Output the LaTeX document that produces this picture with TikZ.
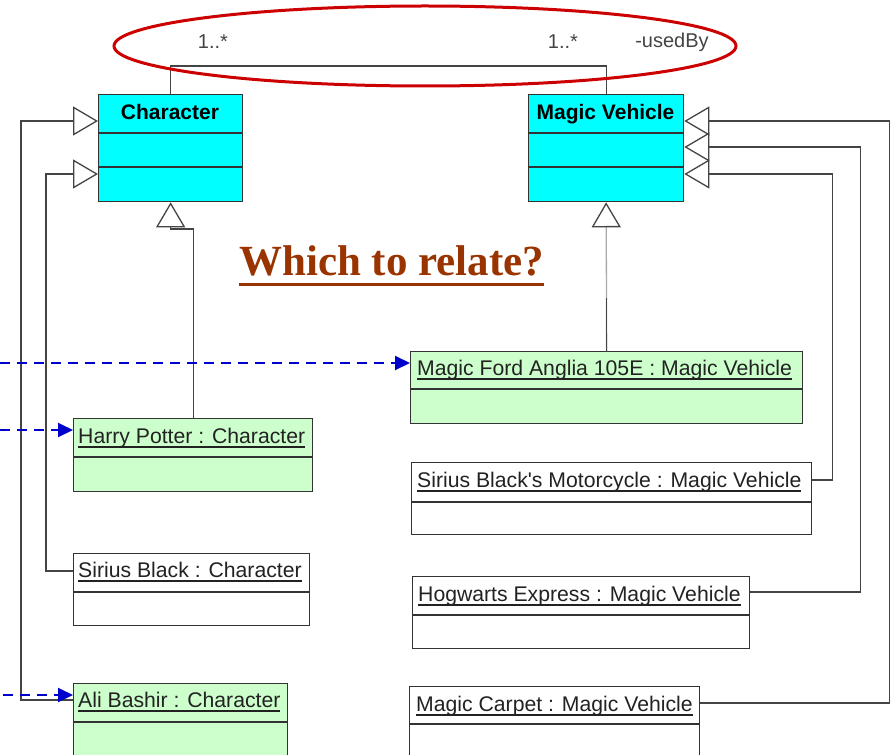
\documentclass[tikz,border=0pt]{standalone}
\usepackage{fontspec}
\setmainfont{Liberation Serif}
\setsansfont{Liberation Sans}[Ligatures=TeXOff]
\usetikzlibrary{arrows.meta,calc}
\definecolor{clsfill}{HTML}{00FFFF}
\definecolor{objgreen}{HTML}{CCFFCC}
\definecolor{boxline}{HTML}{333333}
\definecolor{lineg}{HTML}{444444}
\definecolor{lightg}{HTML}{AAAAAA}
\definecolor{txtg}{HTML}{222222}
\definecolor{multg}{HTML}{444444}
\definecolor{depblue}{HTML}{0000CC}
\definecolor{ovalred}{HTML}{CC0000}
\definecolor{qbrown}{HTML}{993300}
\newcommand\myunder[1]{\setbox0\hbox{#1}\rlap{\rule[-4.6pt]{\wd0}{1.3pt}}\box0}
\begin{document}
\begin{tikzpicture}[x=1pt,y=-1pt,
  boxbase/.style={draw=boxline, line width=1.3pt, anchor=north west, inner sep=0pt},
  clsbox/.style={boxbase, fill=clsfill},
  greenbox/.style={boxbase, fill=objgreen},
  whitebox/.style={boxbase, fill=white},
  divider/.style={draw=boxline, line width=1.3pt},
  clstitle/.style={anchor=base, inner sep=0pt, font=\sffamily\bfseries\fontsize{21}{25}\selectfont, text=black},
  objtitle/.style={anchor=base west, inner sep=0pt, font=\sffamily\fontsize{21.2}{25}\selectfont, text=txtg},
  mult/.style={anchor=base, inner sep=0pt, font=\sffamily\fontsize{20}{24}\selectfont, text=multg},
  assoc/.style={draw=lineg, line width=1.3pt},
  gen/.style={draw=lineg, line width=1.3pt, -{Triangle[open, length=25pt, width=29pt, color=lineg]}},
  dep/.style={draw=depblue, line width=2pt, dash pattern=on 10pt off 7pt, -{Triangle[length=15pt, width=14pt]}},
]
\useasboundingbox (0,0) rectangle (893,754);
\clip (0,0) rectangle (893,754);

% class boxes
\node[clsbox, minimum width=144pt, minimum height=107pt] (char) at (98,94) {};
\draw[divider] (98,133) -- (242,133);
\draw[divider] (98,167) -- (242,167);
\node[clstitle] (chart) at (170,120) {Character};

\node[clsbox, minimum width=155pt, minimum height=107pt] (mv) at (528,94) {};
\draw[divider] (528,133) -- (683,133);
\draw[divider] (528,167) -- (683,167);
\node[clstitle] (mvt) at (605.5,120) {Magic Vehicle};

% object boxes, left
\node[greenbox, minimum width=239pt, minimum height=73pt] (hp) at (73,418) {};
\draw[divider] (73,457) -- (312,457);
\node[objtitle] (hpt) at (78,443) {\myunder{Harry Potter : Character}};

\node[whitebox, minimum width=236pt, minimum height=72pt] (sb) at (73,553) {};
\draw[divider] (73,592) -- (309,592);
\node[objtitle] (sbt) at (78,577) {\myunder{Sirius Black : Character}};

\node[greenbox, minimum width=214pt, minimum height=80pt] (ali) at (73,683) {};
\draw[divider] (73,722) -- (287,722);
\node[objtitle] (alit) at (78,707) {\myunder{Ali Bashir : Character}};

% object boxes, right
\node[greenbox, minimum width=392pt, minimum height=72pt] (ford) at (410,351) {};
\draw[divider] (410,389) -- (802,389);
\node[objtitle] (fordt) at (417,375) {\myunder{Magic Ford Anglia 105E : Magic Vehicle}};

\node[whitebox, minimum width=400pt, minimum height=72pt] (mc) at (411,462) {};
\draw[divider] (411,502) -- (811,502);
\node[objtitle] (mct) at (417,487) {\myunder{Sirius Black's Motorcycle : Magic Vehicle}};

\node[whitebox, minimum width=337pt, minimum height=72pt] (hw) at (412,576) {};
\draw[divider] (412,615) -- (749,615);
\node[objtitle] (hwt) at (418,601) {\myunder{Hogwarts Express : Magic Vehicle}};

\node[whitebox, minimum width=290pt, minimum height=80pt] (carpet) at (409,686) {};
\draw[divider] (409,724) -- (699,724);
\node[objtitle] (carpett) at (416,711) {\myunder{Magic Carpet : Magic Vehicle}};

% association
\draw[assoc] (char.north) -- ++(0,-28) -| (mv.north);
\node[mult] (m1) at (213,49) {1..*};
\node[mult] (m2) at (563,49) {1..*};
\node[mult] (ub) at (672,48) {-usedBy};

% generalizations to Character
\draw[gen] ($(ali.north west)+(0,17)$) -- ++(-52,0) |- ($(char.north west)+(0,27)$);
\draw[gen] ($(sb.north west)+(0,18)$) -- ++(-27,0) |- ($(char.north west)+(0,80)$);
\draw[gen] (hp.north) -- ++(0,-189) -| (char.south);

% generalizations to Magic Vehicle
\draw[gen] ($(carpet.north east)+(0,17)$) -- ++(189,0) |- ($(mv.north east)+(0,27)$);
\draw[gen] ($(hw.north east)+(0,16)$) -- ++(110,0) |- ($(mv.north east)+(0,53)$);
\draw[gen] ($(mc.north east)+(0,18)$) -- ++(20,0) |- ($(mv.north east)+(0,80)$);
\draw[gen, draw=lightg] (ford.north) -- (mv.south);
\draw[assoc] ($(ford.north)+(0,-53)$) -- (ford.north);

% dependency arrows
\coordinate (d1) at (0,363);
\coordinate (d2) at (0,430);
\coordinate (d3) at (3,695);
\draw[dep] (d1) -- ($(ford.north west)+(0,12)$);
\draw[dep] (d2) -- ($(hp.north west)+(0,12)$);
\draw[dep] (d3) -- ($(ali.north west)+(0,12)$);

% question
\node[anchor=base west, inner sep=0pt, font=\bfseries\fontsize{43}{50}\selectfont, text=qbrown] (q) at (239,275) {Which to relate?};
\draw[draw=qbrown, line width=3pt] ($(q.base west)+(0,9)$) -- ($(q.base east)+(0,9)$);

% highlight oval
\draw[ovalred, line width=3pt] (425,46) ellipse [x radius=311pt, y radius=40pt];
\end{tikzpicture}
\end{document}
